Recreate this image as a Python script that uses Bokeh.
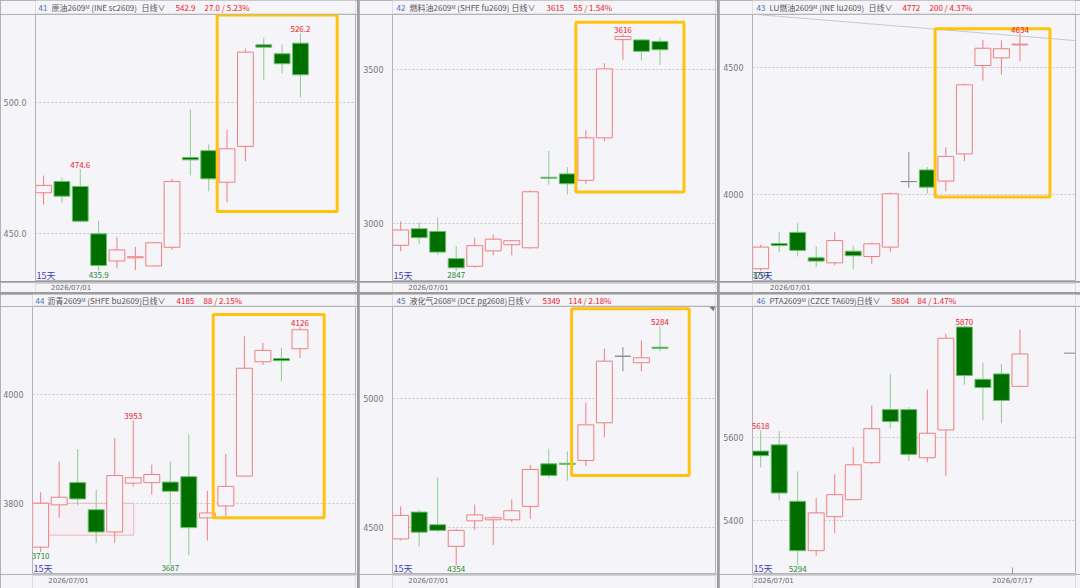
import numpy as np
from bokeh.plotting import figure
from bokeh.layouts import column
from bokeh.models import Range1d, FixedTicker, Label, NumeralTickFormatter, GridBox
from bokeh.embed import file_html
from bokeh.resources import INLINE

# ---------------- data ----------------
SC_OPEN  = [465.6, 469.9, 468.0, 450.0, 439.7, 440.9, 437.8, 444.9, 479.0, 481.6, 469.6, 483.2, 521.8, 518.4, 522.4]
SC_HIGH  = [472.1, 471.3, 474.6, 455.0, 448.9, 445.1, 446.8, 470.9, 497.2, 483.9, 489.5, 520.3, 524.5, 521.9, 526.2]
SC_LOW   = [461.1, 461.8, 454.4, 435.9, 436.9, 436.2, 437.6, 443.9, 472.2, 466.1, 462.0, 477.6, 508.5, 511.0, 501.9]
SC_CLOSE = [468.4, 464.3, 454.8, 438.0, 443.9, 441.3, 446.6, 469.9, 478.1, 470.9, 482.3, 519.0, 520.9, 514.6, 510.4]

FU_OPEN  = [2930, 2984, 2975, 2887, 2862, 2912, 2932, 2922, 3151, 3162, 3141, 3279, 3598, 3597, 3592]
FU_HIGH  = [3008, 3004, 3020, 2927, 2955, 2965, 2948, 3109, 3236, 3184, 3303, 3521, 3616, 3600, 3604]
FU_LOW   = [2911, 2934, 2899, 2847, 2857, 2898, 2898, 2919, 3127, 3095, 3130, 3268, 3532, 3530, 3516]
FU_CLOSE = [2980, 2955, 2908, 2857, 2929, 2950, 2945, 3104, 3148, 3130, 3279, 3503, 3608, 3560, 3565]

LU_OPEN  = [3709, 3808, 3852, 3752, 3732, 3778, 3757, 3794, 4052, 4098, 4054, 4161, 4509, 4539, 4590]
LU_HIGH  = [3803, 3853, 3888, 3797, 3852, 3799, 3812, 4009, 4168, 4109, 4187, 4438, 4610, 4608, 4634]
LU_LOW   = [3701, 3774, 3757, 3715, 3722, 3707, 3728, 3774, 4028, 4004, 4014, 4132, 4450, 4472, 4526]
LU_CLOSE = [3794, 3800, 3781, 3739, 3820, 3760, 3807, 4004, 4052, 4030, 4151, 4433, 4577, 4575, 4593]

BU_OPEN  = [3719, 3797, 3838, 3788, 3747, 3837, 3838, 3839, 3849, 3773, 3795, 3850, 4061, 4067, 4085]
BU_HIGH  = [3820, 3877, 3900, 3825, 3920, 3953, 3871, 3877, 3927, 3823, 3891, 4108, 4096, 4087, 4126]
BU_LOW   = [3710, 3773, 3796, 3727, 3727, 3831, 3816, 3687, 3704, 3731, 3774, 3849, 4055, 4025, 4068]
BU_CLOSE = [3800, 3811, 3808, 3747, 3851, 3847, 3853, 3822, 3755, 3782, 3831, 4049, 4082, 4063, 4120]

PG_OPEN  = [4457, 4561, 4512, 4428, 4527, 4531, 4531, 4583, 4748, 4750, 4761, 4907, 5165, 5140, 5200]
PG_HIGH  = [4583, 4571, 4696, 4496, 4590, 4544, 4610, 4744, 4806, 4796, 4985, 5194, 5200, 5226, 5284]
PG_LOW   = [4451, 4428, 4483, 4354, 4492, 4434, 4522, 4535, 4692, 4683, 4739, 4851, 5107, 5107, 5185]
PG_CLOSE = [4548, 4483, 4490, 4490, 4550, 4539, 4566, 4726, 4703, 4746, 4899, 5146, 5165, 5159, 5195]

TA_OPEN  = [5568, 5583, 5447, 5328, 5410, 5451, 5540, 5668, 5668, 5552, 5619, 5867, 5741, 5754, 5724]
TA_HIGH  = [5618, 5616, 5519, 5455, 5512, 5577, 5678, 5754, 5674, 5716, 5851, 5870, 5781, 5778, 5861]
TA_LOW   = [5529, 5449, 5294, 5316, 5370, 5449, 5536, 5622, 5544, 5541, 5508, 5728, 5642, 5635, 5723]
TA_CLOSE = [5557, 5467, 5328, 5419, 5463, 5535, 5622, 5639, 5560, 5611, 5840, 5750, 5721, 5690, 5802]

# header texts: number, contract name, last price, change
HEADERS = [
    ("41", "原油2609ᴹ (INE sc2609)", "542.9", "27.0 / 5.23%"),
    ("42", "燃料油2609ᴹ (SHFE fu2609)", "3615", "55 / 1.54%"),
    ("43", "LU燃油2609ᴹ (INE lu2609)", "4772", "200 / 4.37%"),
    ("44", "沥青2609ᴹ (SHFE bu2609)", "4185", "88 / 2.15%"),
    ("45", "液化气2608ᴹ (DCE pg2608)", "5349", "114 / 2.18%"),
    ("46", "PTA2609ᴹ (CZCE TA609)", "5804", "84 / 1.47%"),
]
PERIOD = "日线∨"
DAYS_TEXT = "15天"

Y_TICKS = [[450, 500], [3000, 3500], [4000, 4500], [3800, 4000], [4500, 5000], [5400, 5600]]
DECIMALS = [1, 0, 0, 0, 0, 0]
# labelled extremes: (candle index, "H" or "L")
EXTREMES = [
    [(14, "H"), (2, "H"), (3, "L")],
    [(12, "H"), (3, "L")],
    [(14, "H"), (0, "L")],
    [(14, "H"), (5, "H"), (0, "L"), (7, "L")],
    [(14, "H"), (3, "L")],
    [(0, "H"), (11, "H"), (2, "L")],
]
# highlighted area (left, right, bottom, top) in candle index / price units
BOXES = [
    (9.46, 16.0, 458.5, 533.1),
    (9.46, 15.3, 3103, 3654),
    (9.42, 15.62, 3991, 4654),
    (9.32, 15.31, 3773, 4148),
    (9.23, 15.58, 4703, 5349),
    None,
]
DATES = [
    [(1.5, "2026/07/01")], [(1.5, "2026/07/01")], [(1.6, "2026/07/01")],
    [(1.5, "2026/07/01")], [(1.5, "2026/07/01")], [(0.7, "2026/07/01"), (13.6, "2026/07/17")],
]
LU_TREND = (-0.44, 4711, 17.0, 4607)          # trend line in panel 43
BU_RANGE = (-0.44, 5.03, 3741, 3800)          # range rectangle in panel 44
TA_LAST = 5804                                 # last price marker in panel 46

SERIES = [
    (SC_OPEN, SC_HIGH, SC_LOW, SC_CLOSE),
    (FU_OPEN, FU_HIGH, FU_LOW, FU_CLOSE),
    (LU_OPEN, LU_HIGH, LU_LOW, LU_CLOSE),
    (BU_OPEN, BU_HIGH, BU_LOW, BU_CLOSE),
    (PG_OPEN, PG_HIGH, PG_LOW, PG_CLOSE),
    (TA_OPEN, TA_HIGH, TA_LOW, TA_CLOSE),
]

# ---------------- layout / style ----------------
Y_RANGES = [(431.9, 533.3), (2812.6, 3679.5), (3658.6, 4709.8),
            (3668.5, 4162.9), (4319.0, 5357.8), (5270.6, 5916.4)]
X_RANGE = (-0.44, 17.0)
WIDTHS = [357, 358, 361]
B_LEFT = [32, 33, 33]
B_RIGHT = [2, 2, 5]
HEAD_H = [14, 12]      # header strip height per row
MAIN_H = [267, 268]    # plot frame height per row
DATE_H = [11, 14]      # date strip height per row
HEAD_TXT_Y = [7.0, 6.0]
DATE_TXT_Y = [5.5, 7.3]
# header x positions (number, name, period, price, change) relative to the frame's left edge
HEADER_X = [
    (-29, -16, 74, 108, 137),
    (-29, -16, 86, 121, 148),
    (-29, -16, 83, 117, 144),
    (-29, -17, 77, 112, 139),
    (-29, -16, 82, 117, 143),
    (-29, -16, 71, 106, 132),
]

BG = "#f4f4f9"
RED = "#f07f7f"
RED_TXT = "#f0141e"
GREEN_FILL = "#006f00"
GREEN_LINE = "#6cbf6c"
GREEN_WICK = "#8ccf8c"
GREEN_TXT = "#2a8a2a"
FLAT = "#8a8a8a"
YELLOW = "#ffc20e"
AXIS = "#b4b4b4"
FONT = "Noto Sans CJK SC"


def make_panel(k):
    row, col = divmod(k, 3)
    o, h, l, c = (np.array(a, dtype=float) for a in SERIES[k])
    n = len(o)
    idx = np.arange(n)
    W = WIDTHS[col]
    xr = Range1d(*X_RANGE)

    # ---- header strip ----
    HH = HEAD_H[row]
    hd = figure(width=W, height=HH, x_range=Range1d(0, W), y_range=Range1d(0, HH),
                output_backend="svg", toolbar_location=None,
                x_axis_location=None, y_axis_location=None, min_border=0,
                background_fill_color=BG, border_fill_color=BG, outline_line_color=None)
    hd.grid.visible = False
    hd.segment(x0=[0], y0=[0.5], x1=[W], y1=[0.5], line_color="#cfcfd6", line_width=1)
    num, name, last, chg = HEADERS[k]
    hx = HEADER_X[k]
    parts = [(hx[0], num, "#4f6fae"), (hx[1], name, "#555555"),
             (hx[2], PERIOD, "#555555"), (hx[3], last, RED_TXT), (hx[4], chg, RED_TXT)]
    for xs, txt, colr in parts:
        hd.add_layout(Label(x=B_LEFT[col] + xs, y=HEAD_TXT_Y[row], x_units="screen", y_units="screen",
                            text=txt, text_align="left", text_baseline="middle", text_color=colr,
                            text_font_size="8px", text_font=FONT))

    # ---- main plot ----
    p = figure(width=W, height=MAIN_H[row], x_range=xr, y_range=Range1d(*Y_RANGES[k]),
               output_backend="svg", toolbar_location=None, x_axis_location=None,
               min_border_left=B_LEFT[col], min_border_right=B_RIGHT[col],
               min_border_top=0, min_border_bottom=0,
               background_fill_color=BG, border_fill_color=BG,
               outline_line_color=AXIS)
    p.xgrid.visible = False
    ax = p.yaxis[0]
    ax.ticker = FixedTicker(ticks=Y_TICKS[k])
    ax.formatter = NumeralTickFormatter(format="0.0" if DECIMALS[k] == 1 else "0")
    ax.axis_line_color = None
    ax.major_tick_line_color = None
    ax.minor_tick_line_color = None
    ax.major_label_text_font_size = "8px"
    ax.major_label_text_color = "#777777"
    ax.major_label_text_font = "DejaVu Sans"
    ax.major_label_standoff = 3
    p.ygrid.grid_line_color = "#c8c8c8"
    p.ygrid.grid_line_dash = "2 2"

    up = c > o
    down = c < o
    wick = np.where(up, RED, np.where(down, GREEN_WICK, FLAT))
    fill = np.where(up, BG, np.where(down, GREEN_FILL, FLAT))
    line = np.where(up, RED, np.where(down, GREEN_LINE, FLAT))

    if k == 2:
        x0, y0, x1, y1 = LU_TREND
        p.segment(x0=[x0], y0=[y0], x1=[x1], y1=[y1], line_color="#c9c9c9", line_width=1)
    if k == 3:
        lft, rgt, bot, top = BU_RANGE
        p.quad(left=[lft], right=[rgt], bottom=[bot], top=[top],
               fill_color="#f7d6d6", fill_alpha=0.12, line_color="#f5b5b5")
    if k == 5:
        p.segment(x0=[16.37], y0=[TA_LAST], x1=[17.0], y1=[TA_LAST], line_color="#888888", line_width=1)
        ylo = Y_RANGES[k][0]
        p.segment(x0=[13.6], y0=[ylo], x1=[13.6], y1=[ylo + 17], line_color="#9a9a9a", line_width=1)
    if k == 4:
        p.triangle(x=[16.85], y=[5352], size=6, angle=-0.785, fill_color="#777777", line_color=None)

    p.segment(x0=idx, y0=h, x1=idx, y1=l, line_color=list(wick), line_width=1)
    p.vbar(x=idx, width=0.86, top=np.maximum(o, c), bottom=np.minimum(o, c),
           fill_color=list(fill), line_color=list(line), line_width=1)

    if BOXES[k] is not None:
        lft, rgt, bot, top = BOXES[k]
        p.quad(left=[lft], right=[rgt], bottom=[bot], top=[top],
               fill_color=None, line_color=YELLOW, line_width=3)

    fmt = "{:.1f}" if DECIMALS[k] == 1 else "{:.0f}"
    for i, kind in EXTREMES[k]:
        if kind == "H":
            p.add_layout(Label(x=i, y=h[i], text=fmt.format(h[i]), text_align="center",
                               text_baseline="bottom", y_offset=1, text_color=RED_TXT,
                               text_font_size="8px", text_font=FONT))
        else:
            p.add_layout(Label(x=i, y=l[i], text=fmt.format(l[i]), text_align="center",
                               text_baseline="top", y_offset=-1, text_color=GREEN_TXT,
                               text_font_size="8px", text_font=FONT))

    p.add_layout(Label(x=1, y=6.5, x_units="screen", y_units="screen", text=DAYS_TEXT,
                       text_baseline="middle", text_align="left", text_color="#3c3cb4",
                       text_font_size="9px", text_font=FONT))

    # ---- date strip (shares the x range) ----
    DH = DATE_H[row]
    dt = figure(width=W, height=DH, x_range=xr, y_range=Range1d(0, DH),
                output_backend="svg", toolbar_location=None,
                x_axis_location=None, y_axis_location=None,
                min_border_left=B_LEFT[col], min_border_right=B_RIGHT[col],
                min_border_top=0, min_border_bottom=0,
                background_fill_color=BG, border_fill_color=BG, outline_line_color=None)
    dt.grid.visible = False
    dt.segment(x0=[X_RANGE[0]], y0=[DH - 0.5], x1=[X_RANGE[1]], y1=[DH - 0.5],
               line_color=AXIS, line_width=1)
    for xd, txt in DATES[k]:
        dt.add_layout(Label(x=xd, y=DATE_TXT_Y[row], y_units="screen", text=txt,
                            text_align="center", text_baseline="middle", text_color="#6a6a6a",
                            text_font_size="7px", text_font="DejaVu Sans"))
    return column(hd, p, dt, spacing=0)


panels = [make_panel(k) for k in range(6)]
grid = GridBox(children=[(panels[k], k // 3, k % 3) for k in range(6)], spacing=2,
               styles={"background-color": "#9c9c9c"})

open("out.html", "w").write(file_html(grid, INLINE))
